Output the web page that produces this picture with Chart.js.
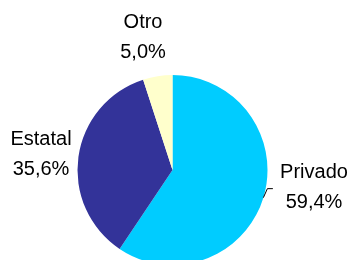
<!DOCTYPE html>
<html>
<head>
<meta charset="utf-8">
<script src="https://cdn.jsdelivr.net/npm/chart.js@4"></script>
<style>
  html, body { margin: 0; padding: 0; background: #fff; overflow: hidden; }
  #wrap { width: 350px; height: 270px; }
</style>
</head>
<body>
<div id="wrap"><canvas id="chart1" width="350" height="270"></canvas></div>
<script>
// Chart data
const sectorNames = ['Privado', 'Estatal', 'Otro'];
const sectorShares = [59.4, 35.6, 5.0];
const sectorColors = ['#00CCFF', '#333399', '#FFFFCC'];

// Label nudges from the radial anchor point (x, y), per slice
const labelNudges = [[11.4, -31.2], [3.2, -6.3], [-8.2, -7.4]];

// Draws "name / value%" labels outside the slices, plus the small leader on Privado
const outsideLabels = {
    id: 'outsideLabels',
    afterDatasetsDraw(chart, args, opts) {
        const ctx = chart.ctx;
        const meta = chart.getDatasetMeta(0);
        ctx.save();
        ctx.font = '20px "Liberation Sans", Arial, sans-serif';
        ctx.fillStyle = '#000';
        ctx.textAlign = 'center';
        ctx.textBaseline = 'alphabetic';
        meta.data.forEach((arc, i) => {
            const mid = (arc.startAngle + arc.endAngle) / 2;
            const x = arc.x + Math.cos(mid) * opts.radius + labelNudges[i][0];
            const y = arc.y + Math.sin(mid) * opts.radius + labelNudges[i][1];
            const pct = sectorShares[i].toFixed(1).replace('.', ',') + '%';
            ctx.fillText(chart.data.labels[i], x, y);
            ctx.fillText(pct, x, y + 30);

            // leader line for the first slice only
            if (i === 0) {
                const ex = arc.x + Math.cos(mid) * arc.outerRadius;
                const ey = arc.y + Math.sin(mid) * arc.outerRadius;
                ctx.strokeStyle = '#000';
                ctx.lineWidth = 1;
                ctx.beginPath();
                ctx.moveTo(ex, ey);
                ctx.lineTo(ex + 4, ey - 9);
                ctx.lineTo(ex + 9.5, ey - 9);
                ctx.stroke();
            }
        });
        ctx.restore();
    }
};

const ctx1 = document.getElementById('chart1').getContext('2d');
new Chart(ctx1, {
    type: 'pie',
    data: {
        labels: sectorNames,
        datasets: [{
            data: sectorShares,
            backgroundColor: sectorColors,
            borderWidth: 0
        }]
    },
    options: {
        responsive: false,
        animation: false,
        layout: {
            padding: { left: 0, right: 5, top: 75, bottom: 5 }
        },
        plugins: {
            legend: { display: false },
            tooltip: { enabled: false },
            outsideLabels: { radius: 136 }
        }
    },
    plugins: [outsideLabels]
});
</script>
</body>
</html>
